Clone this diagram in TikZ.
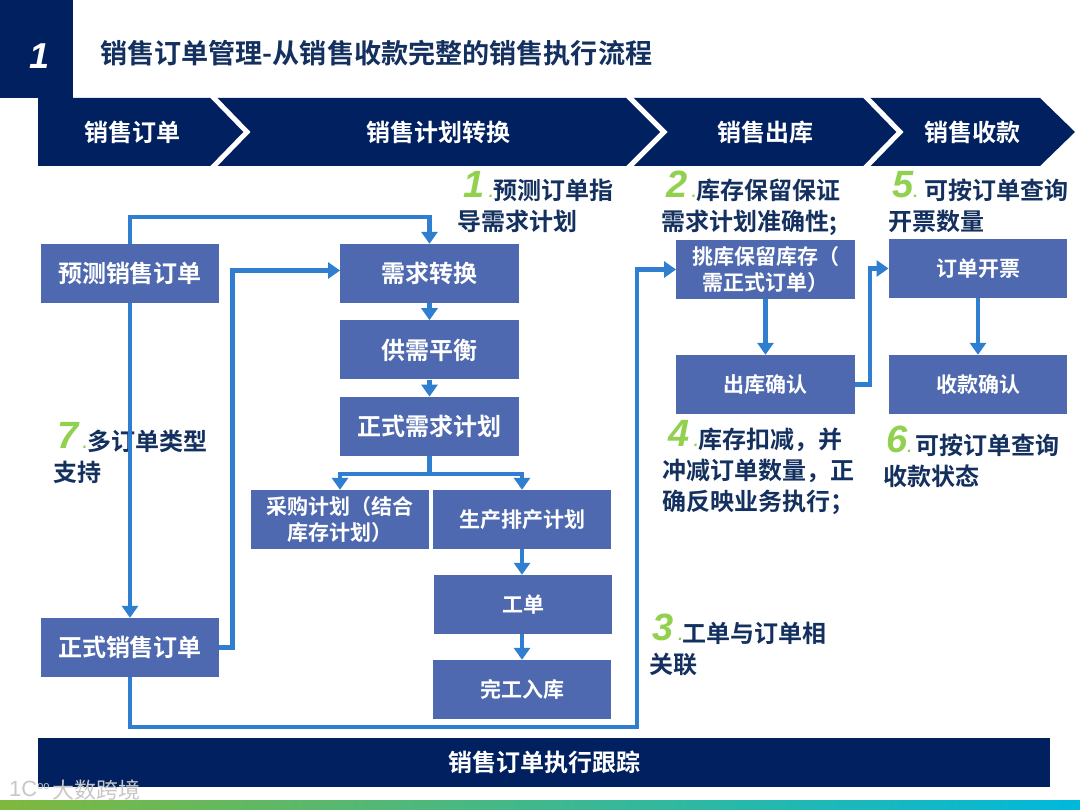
\documentclass[tikz,border=0pt]{standalone}
\usepackage{fontspec}
\usepackage{tikz}
\usetikzlibrary{positioning,calc,arrows.meta}
\setmainfont{Noto Sans CJK SC}[BoldFont={Noto Sans CJK SC Bold}]
\newfontfamily\numfont{Liberation Sans}
\definecolor{navy}{HTML}{002060}
\definecolor{boxblue}{HTML}{4E69AF}
\definecolor{linkblue}{HTML}{2F7ED0}
\definecolor{numgreen}{HTML}{92D050}
\definecolor{inkblue}{HTML}{14305F}
\definecolor{bandgreen}{HTML}{7FB83E}
\definecolor{bandteal}{HTML}{00AFC0}
\definecolor{bandcyan}{HTML}{00B8DC}
\newcommand{\notenum}[2]{\raisebox{2pt}[0pt][0pt]{\numfont\bfseries\itshape\color{numgreen}\fontsize{38}{38}\selectfont #1\fontsize{16}{16}\selectfont #2}}

\begin{document}
\begin{tikzpicture}[x=1pt,y=-1pt,
    flow/.style={rectangle,fill=boxblue,text=white,font=\bfseries\fontsize{24}{28}\selectfont,minimum width=178.5pt,minimum height=59pt,inner sep=0pt,align=center},
    flowsm/.style={flow,font=\bfseries\fontsize{21}{26}\selectfont},
    stage/.style={text=white,font=\bfseries\fontsize{24}{28}\selectfont,inner sep=0pt},
    note/.style={anchor=north west,text=inkblue,font=\bfseries\fontsize{24}{31}\selectfont,inner sep=0pt,align=left},
    link/.style={draw=linkblue,line width=4.5pt,-{Triangle[width=16pt,length=12pt]}},
    node distance=17pt]

\useasboundingbox (0,0) rectangle (1080,810);
\shade[left color=bandgreen,middle color=bandteal,right color=bandcyan] (0,800) rectangle (1080,810);

\fill[navy] (0,0) rectangle (73,98);
\fill[navy] (38,98) -- (1040,98) -- (1075,132) -- (1040,166) -- (38,166) -- cycle;
\draw[white,line width=5pt] (212,96) -- (247,132) -- (212,168);
\draw[white,line width=5pt] (628,96) -- (664,132) -- (628,168);
\draw[white,line width=5pt] (865,96) -- (900,132) -- (865,168);
\fill[navy] (38,738) rectangle (1050,787);

\node[text=white,font=\numfont\bfseries\itshape\fontsize{36}{36}\selectfont,inner sep=0pt] (secno) at (40,56) {1};
\node[anchor=west,text=inkblue,font=\bfseries\fontsize{27.1}{30}\selectfont,inner sep=0pt] (title) at (100,53) {销售订单管理-从销售收款完整的销售执行流程};

\node[stage] (stord) at (132,132) {销售订单};
\node[stage] (stplan) at (438,132) {销售计划转换};
\node[stage] (stout) at (765,132) {销售出库};
\node[stage] (stpay) at (972,132) {销售收款};
\node[stage] (track) at (544,762) {销售订单执行跟踪};

\node[flow] (fcst) at (130,273.5) {预测销售订单};
\node[flow] (order) at (130,647.5) {正式销售订单};
\node[flow] (demand) at (429.5,273.5) {需求转换};
\node[flow] (balance) [below=of demand] {供需平衡};
\node[flow] (plan) [below=of balance] {正式需求计划};
\node[flowsm] (purchase) at (340,519.5) {采购计划（结合\\库存计划）};
\node[flowsm] (sched) at (522,519.5) {生产排产计划};
\node[flowsm] (work) at (523,604.5) {工单};
\node[flowsm] (finish) at (522,689.5) {完工入库};
\node[flowsm] (pick) at (765.5,269.5) {挑库保留库存（\\需正式订单）};
\node[flowsm] (ship) at (765.5,384.5) {出库确认};
\node[flowsm] (bill) at (978,268.5) {订单开票};
\node[flowsm] (cash) at (978,384.5) {收款确认};

\node[note] (note1) at (457,179) {\hspace*{6pt}\notenum{1}{ .}预测订单指\\导需求计划};
\node[note] (note2) at (661,179) {\hspace*{5pt}\notenum{2}{ .}库存保留保证\\需求计划准确性;};
\node[note] (note5) at (888,179) {\hspace*{4pt}\notenum{5}{.}\hspace*{7pt}可按订单查询\\开票数量};
\node[note] (note4) at (662,428) {\hspace*{6pt}\notenum{4}{ .}库存扣减，并\\冲减订单数量，正\\确反映业务执行；};
\node[note] (note6) at (883,434) {\hspace*{3pt}\notenum{6}{.}\hspace*{4pt}可按订单查询\\收款状态};
\node[note] (note7) at (53,430) {\hspace*{4pt}\notenum{7}{ .}多订单类型\\支持};
\node[note] (note3) at (649.5,622) {\hspace*{3pt}\notenum{3}{ .}工单与订单相\\关联};

\node[text=black!22,font=\fontsize{22}{24}\selectfont,inner sep=0pt,anchor=west] (mark) at (52,790) {大数跨境};
\node[text=black!22,font=\numfont\fontsize{22}{22}\selectfont,inner sep=0pt,anchor=west] (logo) at (9,789) {1C\raisebox{7pt}{\fontsize{11}{11}\selectfont oo}};

\coordinate (busfoot) at (637,727);

\draw[link] (fcst.north) -- ++(0,-27) -| (demand.north);
\draw[link] (fcst) -- (order);
\draw[link] (order.east) -- ++(13,0) |- ([yshift=3pt]demand.west);
\draw[link] (order.south) |- (busfoot) |- (pick.west);
\draw[link] (demand) -- (balance);
\draw[link] (balance) -- (plan);
\draw[link] (plan.south) -- ++(0,18) -| (purchase.north);
\draw[link] (plan.south) -- ++(0,18) -| (sched.north);
\draw[link] (sched) -- (sched|-work.north);
\draw[link] (work.south-|finish) -- (finish);
\draw[link] (pick) -- (ship);
\draw[link] (ship.east) -- ++(15,0) |- (bill.west);
\draw[link] (bill) -- (cash);
\end{tikzpicture}
\end{document}
